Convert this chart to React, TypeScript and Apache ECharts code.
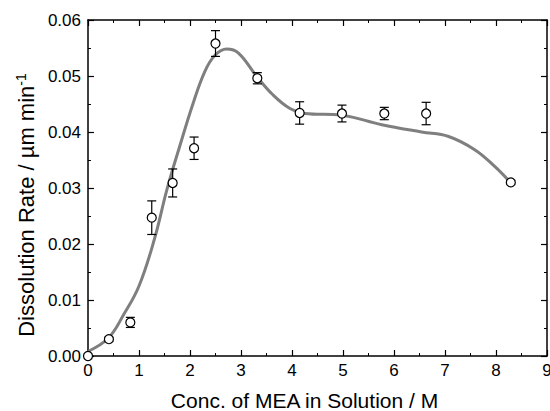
import React, { useEffect, useRef } from "react";
import * as echarts from "echarts";

const pointX = [0, 0.41, 0.83, 1.25, 1.66, 2.08, 2.5, 3.32, 4.15, 4.98, 5.81, 6.63, 8.29];
const pointY = [0.0, 0.003, 0.006, 0.0247, 0.0309, 0.0371, 0.0558, 0.0496, 0.0434, 0.0433, 0.0433, 0.0433, 0.031];
const pointErr = [0.0001, 0.0003, 0.0009, 0.003, 0.0025, 0.002, 0.0023, 0.001, 0.002, 0.0015, 0.0011, 0.002, 0.0003];

const curveX = [0, 0.4, 0.7, 1.0, 1.3, 1.55, 1.8, 2.06, 2.29, 2.49, 2.72, 2.95, 3.31, 3.63, 3.96, 4.25, 4.97, 5.76, 6.54, 7.07, 7.59, 7.98, 8.27];
const curveY = [0.0008, 0.0032, 0.0074, 0.0125, 0.0208, 0.0298, 0.0375, 0.0451, 0.0508, 0.0537, 0.0548, 0.0541, 0.0499, 0.0466, 0.0442, 0.0433, 0.043, 0.0413, 0.04, 0.0392, 0.0368, 0.0338, 0.0311];

const xTicks = [0, 1, 2, 3, 4, 5, 6, 7, 8, 9];
const yTicks = ["0.00", "0.01", "0.02", "0.03", "0.04", "0.05", "0.06"];

const FONT = "'Liberation Sans', Arial, sans-serif";

export default function App() {
  const ref = useRef<HTMLDivElement>(null);
  useEffect(() => {
    if (!ref.current) return;
    const chart = echarts.init(ref.current, null, { renderer: "svg" });
    const axisLine = () => ({ show: true, onZero: false, lineStyle: { color: "#000", width: 1.5 } });
    const tickIn = () => ({ show: true, inside: true, length: 6, lineStyle: { color: "#000", width: 1.2 } });
    const minorIn = () => ({ show: true, splitNumber: 2, length: 3, lineStyle: { color: "#000", width: 1 } });
    chart.setOption({
      animation: false,
      backgroundColor: "#fff",
      grid: { left: 88, right: 3, top: 20, bottom: 55, containLabel: false, outerBoundsMode: "none" },
      xAxis: [
        {
          type: "value",
          min: xTicks[0],
          max: xTicks[xTicks.length - 1],
          interval: 1,
          position: "bottom",
          axisLine: axisLine(),
          axisTick: tickIn(),
          minorTick: minorIn(),
          splitLine: { show: false },
          axisLabel: { color: "#000", fontFamily: FONT, fontSize: 17, margin: 6, showMaxLabel: true },
          name: "Conc. of MEA in Solution / M",
          nameLocation: "middle",
          nameGap: 34,
          nameTextStyle: { color: "#000", fontFamily: FONT, fontSize: 21, padding: [0, 26, 0, 0] },
        },
        {
          type: "value",
          min: xTicks[0],
          max: xTicks[xTicks.length - 1],
          interval: 1,
          position: "top",
          axisLine: axisLine(),
          axisTick: tickIn(),
          minorTick: minorIn(),
          splitLine: { show: false },
          axisLabel: { show: false },
        },
      ],
      yAxis: [
        {
          type: "value",
          min: 0,
          max: 0.06,
          interval: 0.01,
          position: "left",
          axisLine: axisLine(),
          axisTick: tickIn(),
          minorTick: minorIn(),
          splitLine: { show: false },
          axisLabel: {
            color: "#000",
            fontFamily: FONT,
            fontSize: 17,
            margin: 7,
            formatter: (v: number) => yTicks[Math.round(v / 0.01)] ?? v.toFixed(2),
          },
          name: "Dissolution Rate / \u00b5m min{sup|-1}",
          nameLocation: "middle",
          nameRotate: 90,
          nameGap: 50,
          nameTextStyle: {
            color: "#000",
            fontFamily: FONT,
            fontSize: 22,
            padding: [0, 34, 0, 0],
            rich: {
              sup: { fontFamily: FONT, fontSize: 14, color: "#000", verticalAlign: "top", padding: [0, 0, 10, 0] },
            },
          },
        },
        {
          type: "value",
          min: 0,
          max: 0.06,
          interval: 0.01,
          position: "right",
          axisLine: axisLine(),
          axisTick: tickIn(),
          minorTick: minorIn(),
          splitLine: { show: false },
          axisLabel: { show: false },
        },
      ],
      series: [
        {
          type: "line",
          data: curveX.map((x, i) => [x, curveY[i]]),
          smooth: 0.4,
          symbol: "none",
          lineStyle: { color: "#7f7f7f", width: 3 },
          z: 2,
        },
        {
          type: "custom",
          data: pointX.map((x, i) => [x, pointY[i], pointErr[i]]),
          renderItem: (params: any, api: any) => {
            const x = api.value(0);
            const y = api.value(1);
            const e = api.value(2);
            const top = api.coord([x, y + e]);
            const bot = api.coord([x, y - e]);
            const hw = 4.5;
            const style = { stroke: "#000", lineWidth: 1.2, fill: "none" };
            return {
              type: "group",
              children: [
                { type: "line", shape: { x1: top[0], y1: top[1], x2: bot[0], y2: bot[1] }, style },
                { type: "line", shape: { x1: top[0] - hw, y1: top[1], x2: top[0] + hw, y2: top[1] }, style },
                { type: "line", shape: { x1: bot[0] - hw, y1: bot[1], x2: bot[0] + hw, y2: bot[1] }, style },
              ],
            };
          },
          z: 3,
        },
        {
          type: "scatter",
          data: pointX.map((x, i) => [x, pointY[i]]),
          symbol: "circle",
          symbolSize: 9,
          itemStyle: { color: "#fff", borderColor: "#000", borderWidth: 1.2, opacity: 1 },
          z: 4,
        },
      ],
    });
    return () => chart.dispose();
  }, []);
  return <div ref={ref} style={{ position: "fixed", left: 0, top: 0, width: 550, height: 411 }} />;
}
